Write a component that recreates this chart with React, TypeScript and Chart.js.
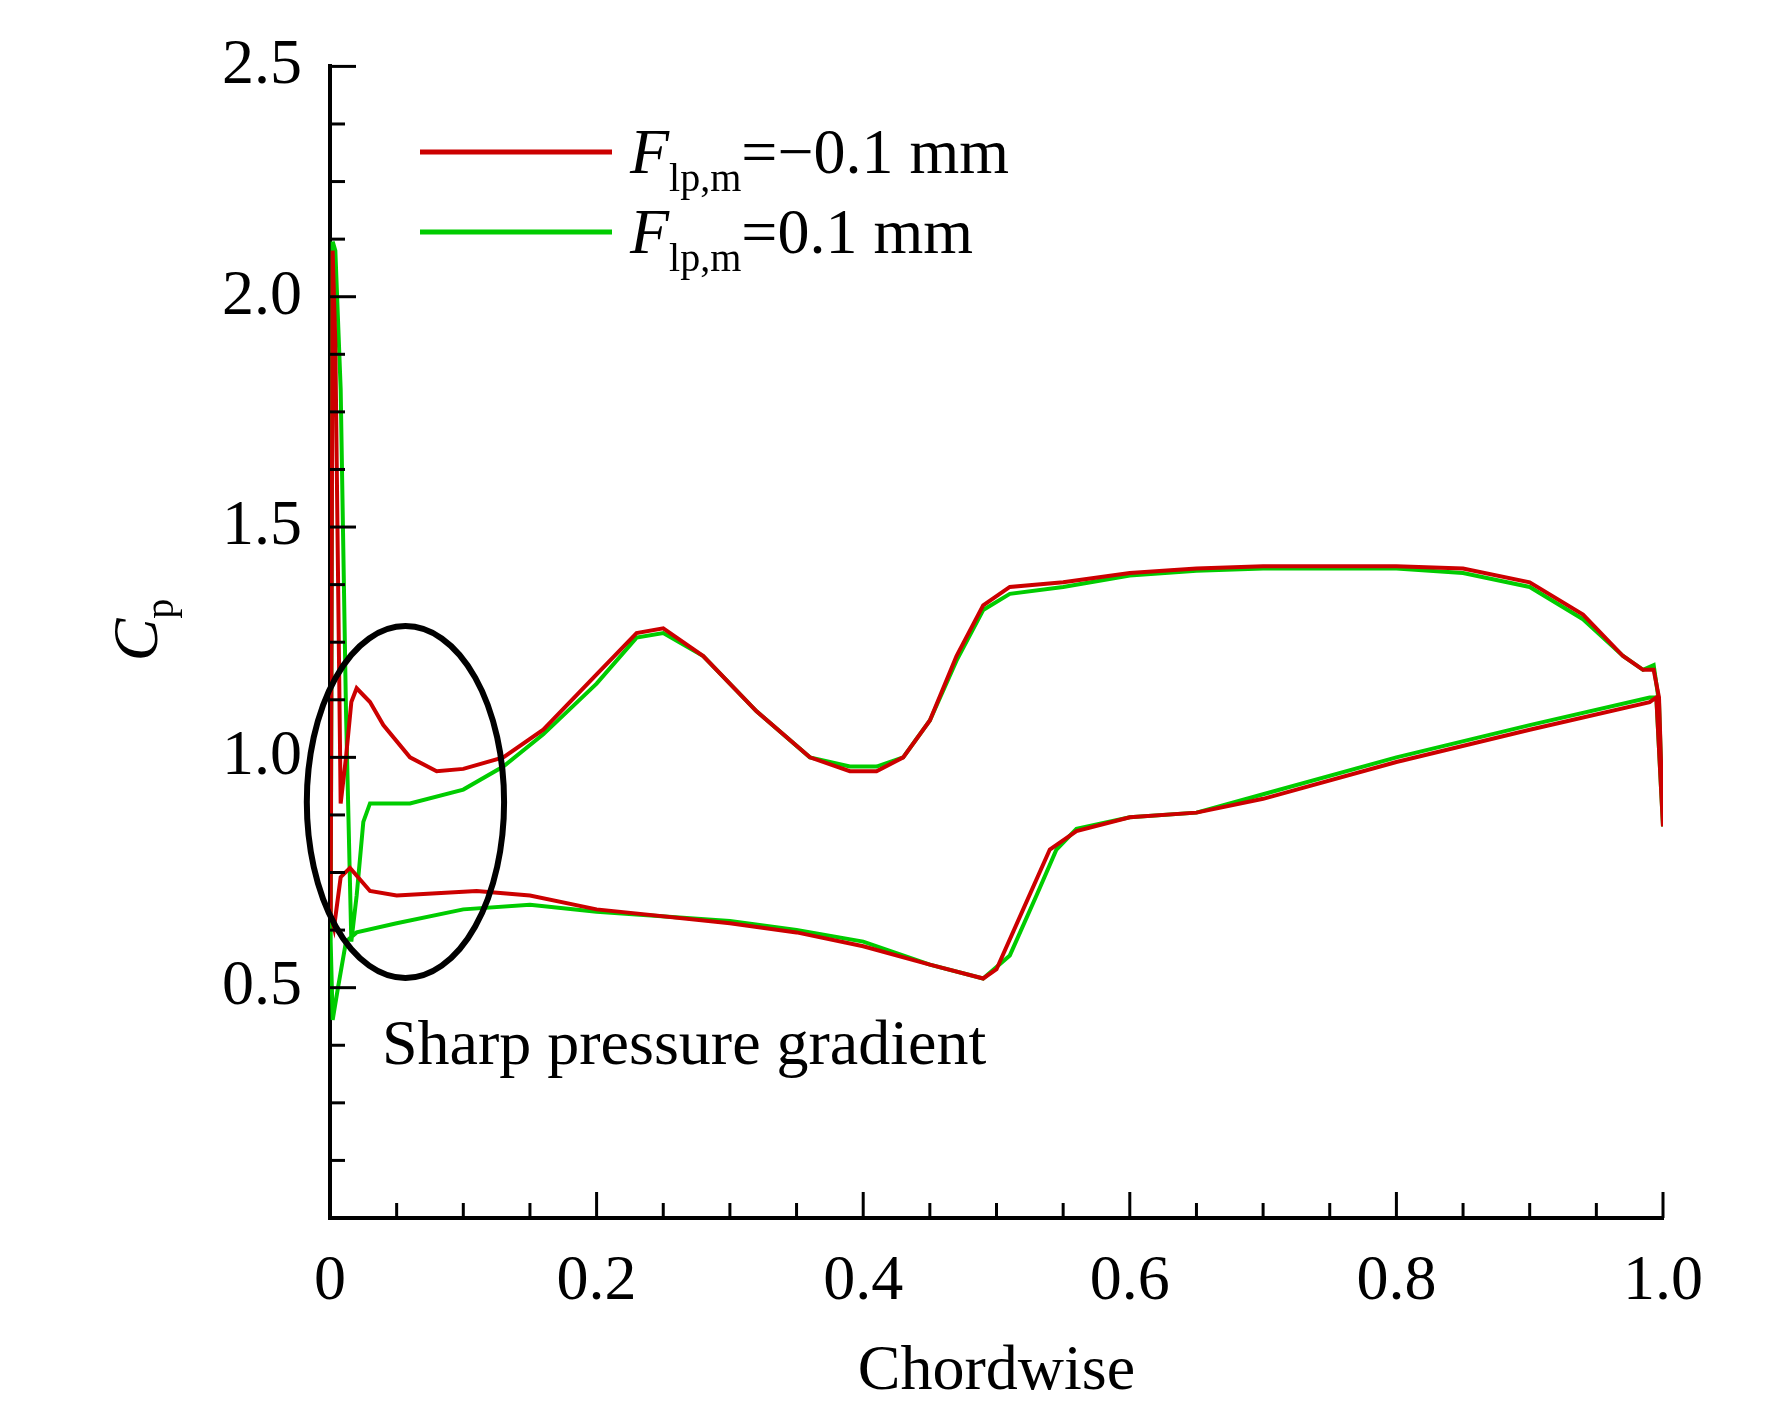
import React, { useEffect, useRef } from "react";
import { Chart, registerables } from "chart.js";
Chart.register(...registerables);

const redUpperX = [0.0005, 0.002, 0.004, 0.006, 0.008, 0.012, 0.016, 0.02, 0.03, 0.04, 0.06, 0.08, 0.1, 0.13, 0.16, 0.2, 0.23, 0.25, 0.28, 0.32, 0.36, 0.39, 0.41, 0.43, 0.45, 0.47, 0.49, 0.51, 0.55, 0.6, 0.65, 0.7, 0.8, 0.85, 0.9, 0.94, 0.97, 0.985, 0.993, 0.997, 1.0];
const redUpperY = [0.66, 2.1, 1.9, 1.4, 0.9, 1.0, 1.12, 1.15, 1.12, 1.07, 1.0, 0.97, 0.975, 1.0, 1.06, 1.18, 1.27, 1.28, 1.22, 1.1, 1.0, 0.97, 0.97, 1.0, 1.08, 1.22, 1.33, 1.37, 1.38, 1.4, 1.41, 1.415, 1.415, 1.41, 1.38, 1.31, 1.22, 1.19, 1.19, 1.13, 0.85];
const redLowerX = [0.995, 0.99, 0.9, 0.8, 0.7, 0.65, 0.6, 0.56, 0.54, 0.52, 0.5, 0.49, 0.45, 0.4, 0.35, 0.3, 0.2, 0.15, 0.11, 0.08, 0.05, 0.03, 0.015, 0.008, 0.003, 0.0005];
const redLowerY = [1.13, 1.12, 1.06, 0.99, 0.91, 0.88, 0.87, 0.84, 0.8, 0.67, 0.54, 0.52, 0.55, 0.59, 0.62, 0.64, 0.67, 0.7, 0.71, 0.705, 0.7, 0.71, 0.76, 0.74, 0.63, 0.66];
const greenUpperX = [0.002, 0.004, 0.008, 0.012, 0.016, 0.02, 0.025, 0.03, 0.06, 0.1, 0.13, 0.16, 0.2, 0.23, 0.25, 0.28, 0.32, 0.36, 0.39, 0.41, 0.43, 0.45, 0.47, 0.49, 0.51, 0.55, 0.6, 0.65, 0.7, 0.8, 0.85, 0.9, 0.94, 0.97, 0.985, 0.993, 0.997, 1.0];
const greenUpperY = [2.12, 2.1, 1.8, 1.1, 0.6, 0.7, 0.86, 0.9, 0.9, 0.93, 0.98, 1.05, 1.16, 1.26, 1.27, 1.22, 1.1, 1.0, 0.98, 0.98, 1.0, 1.08, 1.21, 1.32, 1.355, 1.37, 1.395, 1.405, 1.41, 1.41, 1.4, 1.37, 1.3, 1.22, 1.19, 1.2, 1.12, 0.85];
const greenLowerX = [0.995, 0.99, 0.9, 0.8, 0.7, 0.65, 0.6, 0.56, 0.545, 0.53, 0.51, 0.49, 0.45, 0.4, 0.35, 0.3, 0.2, 0.15, 0.1, 0.05, 0.02, 0.012, 0.006, 0.002, 0.0005, 0.002];
const greenLowerY = [1.13, 1.13, 1.07, 1.0, 0.92, 0.88, 0.87, 0.845, 0.8, 0.7, 0.57, 0.52, 0.55, 0.6, 0.625, 0.645, 0.665, 0.68, 0.67, 0.64, 0.62, 0.6, 0.5, 0.43, 0.6, 2.12];
const xTickLabels = ["0", "0.2", "0.4", "0.6", "0.8", "1.0"];
const yTickLabels = ["0.5", "1.0", "1.5", "2.0", "2.5"];

const pts = (xs: number[], ys: number[]) => xs.map((x, i) => ({ x, y: ys[i] }));
const FONT = "'Liberation Serif', 'Times New Roman', serif";

const deco = {
  id: "deco",
  afterDraw(chart: any) {
    const { ctx, scales } = chart;
    const xs = scales.x, ys = scales.y;
    const L = xs.left, B = ys.bottom;
    ctx.save();
    ctx.strokeStyle = "#000";
    ctx.lineWidth = 3;
    for (let i = 1; i <= 20; i++) {
      const px = xs.getPixelForValue(i * 0.05);
      const len = i % 4 === 0 ? 26 : 15;
      ctx.beginPath(); ctx.moveTo(px, B); ctx.lineTo(px, B - len); ctx.stroke();
    }
    for (let i = 1; i <= 20; i++) {
      const py = ys.getPixelForValue(i * 0.125);
      const len = i % 4 === 0 ? 26 : 15;
      ctx.beginPath(); ctx.moveTo(L, py); ctx.lineTo(L + len, py); ctx.stroke();
    }
    const cx = xs.getPixelForValue(0.0566), cy = ys.getPixelForValue(0.903);
    const rx = xs.getPixelForValue(0.0566 + 0.074) - cx;
    const ry = cy - ys.getPixelForValue(0.903 + 0.382);
    ctx.lineWidth = 6;
    ctx.beginPath(); ctx.ellipse(cx, cy, rx, ry, 0, 0, Math.PI * 2); ctx.stroke();
    ctx.fillStyle = "#000";
    ctx.font = `64px ${FONT}`;
    ctx.textBaseline = "middle";
    ctx.textAlign = "left";
    ctx.fillText("Sharp pressure gradient", xs.getPixelForValue(0.039), ys.getPixelForValue(0.37));
    const legend = [
      { c: "#cc0000", t: "=\u22120.1 mm", y: 152 },
      { c: "#00cc00", t: "=0.1 mm", y: 232 },
    ];
    legend.forEach((e) => {
      ctx.strokeStyle = e.c; ctx.lineWidth = 5;
      ctx.beginPath(); ctx.moveTo(420, e.y); ctx.lineTo(612, e.y); ctx.stroke();
      let x = 630;
      ctx.font = `italic 64px ${FONT}`;
      ctx.fillText("F", x, e.y + 4);
      x += ctx.measureText("F").width;
      ctx.font = `40px ${FONT}`;
      ctx.fillText("lp,m", x, e.y + 28);
      x += ctx.measureText("lp,m").width;
      ctx.font = `64px ${FONT}`;
      ctx.fillText(e.t, x, e.y + 4);
    });
    ctx.translate(140, 630);
    ctx.rotate(-Math.PI / 2);
    ctx.font = `italic 64px ${FONT}`;
    const w = ctx.measureText("C").width;
    ctx.fillText("C", -(w + 20) / 2, 0);
    ctx.font = `40px ${FONT}`;
    ctx.fillText("p", -(w + 20) / 2 + w, 22);
    ctx.restore();
  },
};

export default function App() {
  const ref = useRef<HTMLCanvasElement>(null);
  useEffect(() => {
    document.body.style.margin = "0";
    const mk = (label: string, data: any[], color: string) => ({
      label, data, borderColor: color, backgroundColor: color, showLine: true,
      pointRadius: 0, borderWidth: 4, tension: 0,
    });
    const chart = new Chart(ref.current!, {
      type: "scatter",
      data: {
        datasets: [
          mk("red", [...pts(redUpperX, redUpperY), ...pts(redLowerX, redLowerY)], "#cc0000"),
          mk("green", [...pts(greenUpperX, greenUpperY), ...pts(greenLowerX, greenLowerY)], "#00cc00"),
        ],
      },
      options: {
        animation: false,
        responsive: false,
        layout: { padding: { top: 0, right: 109, left: 0, bottom: 0 } },
        plugins: { legend: { display: false }, tooltip: { enabled: false } },
        scales: {
          x: {
            type: "linear", min: 0, max: 1,
            afterFit: (s: any) => { s.height = 197; },
            grid: { display: false, drawTicks: false },
            border: { display: true, color: "#000", width: 4 },
            ticks: {
              stepSize: 0.2, padding: 26, color: "#000",
              font: { family: FONT, size: 64 },
              callback: (v: any) => { const i = Math.round(Number(v) / 0.2); return Math.abs(Number(v) - i * 0.2) < 1e-6 ? xTickLabels[i] : ""; },
            },
            title: { display: true, text: "Chordwise", color: "#000", font: { family: FONT, size: 64 }, padding: { top: 30 } },
          },
          y: {
            type: "linear", min: 0, max: 2.5,
            afterFit: (s: any) => { s.width = 330; },
            grid: { display: false, drawTicks: false },
            border: { display: true, color: "#000", width: 4 },
            ticks: {
              stepSize: 0.5, padding: 28, color: "#000",
              font: { family: FONT, size: 64 },
              callback: (v: any) => { const i = Math.round(Number(v) / 0.5); return i >= 1 ? yTickLabels[i - 1] : ""; },
            },
          },
        },
      },
      plugins: [deco],
    });
    return () => chart.destroy();
  }, []);
  return <canvas ref={ref} width={1772} height={1415} style={{ display: "block", background: "#fff" }} />;
}
